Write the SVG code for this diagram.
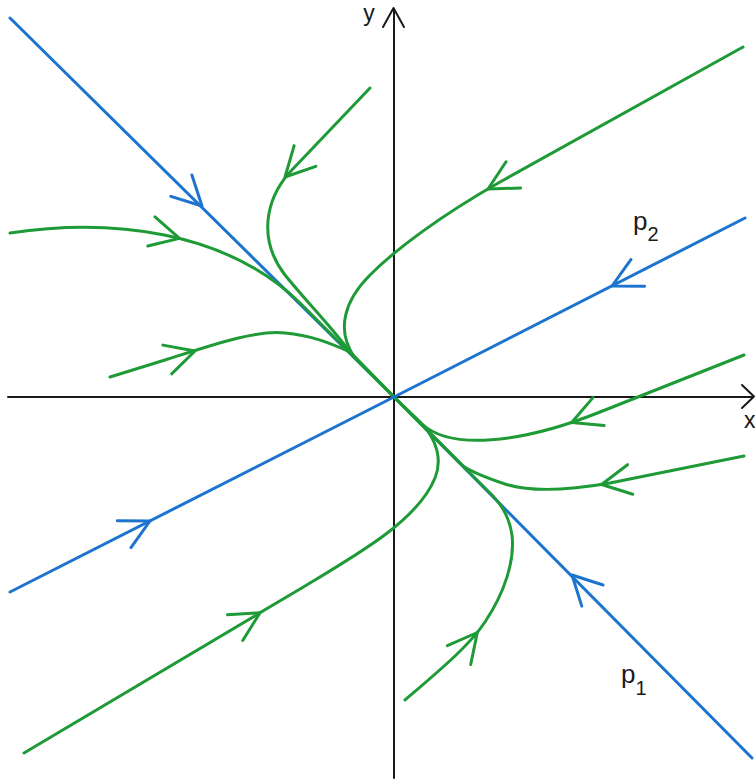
<svg xmlns="http://www.w3.org/2000/svg" xmlns:xlink="http://www.w3.org/1999/xlink" width="756" height="780" viewBox="0 0 756 780">
<style>
.axis{stroke:#1a1a1a;stroke-width:2;fill:none;stroke-linecap:round;stroke-linejoin:round}
.blue{stroke:#1c74cf;stroke-width:3;fill:none;stroke-linecap:round;stroke-linejoin:round}
.green{stroke:#1e9a37;stroke-width:3;fill:none;stroke-linecap:round;stroke-linejoin:round}
.lbl{font-family:"Liberation Sans",Arial,sans-serif;fill:#1a1a1a}
</style>
<defs>
<path id="chev" d="M-29,-15 L0,0 L-29,15"/>
</defs>
<rect width="756" height="780" fill="#ffffff"/>
<g id="axes">
<line class="axis" x1="8" y1="397" x2="753" y2="397"/>
<path class="axis" d="M742,385 L754,396.5 L742,408"/>
<line class="axis" x1="394" y1="778" x2="394" y2="9"/>
<path class="axis" d="M383,27 L393.5,8 L404,27"/>
<text class="lbl" x="369" y="21" font-size="23" text-anchor="middle">y</text>
<text class="lbl" x="744" y="428" font-size="23">x</text>
</g>
<g id="p1">
<polyline class="blue" points="10,18 394,397 752,758"/>
<use xlink:href="#chev" class="blue" transform="translate(202,206) rotate(44.6)"/>
<use xlink:href="#chev" class="blue" transform="translate(572,575) rotate(-134.8)"/>
</g>
<g id="trajectories">
<path class="green" d="M743,47 L500,182 C440,216 395,250 370,275 C345,300 335,330 355,358 L394,397"/>
<use xlink:href="#chev" class="green" transform="translate(488,189) rotate(150.9)"/>
<path class="green" d="M370,88 L290,172 C265,200 258,240 285,275 C305,300 330,325 350,352 L394,397"/>
<use xlink:href="#chev" class="green" transform="translate(285,177) rotate(133.6)"/>
<path class="green" d="M10,233 C110,218 225,230 300,303 L394,397"/>
<use xlink:href="#chev" class="green" transform="translate(179.5,238.4) rotate(14)"/>
<path class="green" d="M110,377 L165,360 C215,344 255,330 285,333 C310,335 330,343 350,352 L394,397"/>
<use xlink:href="#chev" class="green" transform="translate(195,351) rotate(-17)"/>
<path class="green" d="M24,753 L300,589 C360,553 418,520 435,478 C442,461 438,440 420,422 L394,397"/>
<use xlink:href="#chev" class="green" transform="translate(260,612.8) rotate(-30.7)"/>
<path class="green" d="M405,700 C440,670 470,645 485,622 C505,592 515,560 512,535 C509,515 500,502 487,490 L394,397"/>
<use xlink:href="#chev" class="green" transform="translate(477.3,632.5) rotate(-51)"/>
<path class="green" d="M744,355 L600,412 C520,444 450,450 422,424 L394,397"/>
<use xlink:href="#chev" class="green" transform="translate(571.7,422.4) rotate(158)"/>
<path class="green" d="M744,456 L610,483 C570,490 530,492 505,484 C490,479 475,474 463,466 L394,397"/>
<use xlink:href="#chev" class="green" transform="translate(601.6,484.5) rotate(170)"/>
</g>
<g id="p2">
<polyline class="blue" points="10,592 394,397 745,218"/>
<use xlink:href="#chev" class="blue" transform="translate(612,286) rotate(153)"/>
<use xlink:href="#chev" class="blue" transform="translate(150,521) rotate(-27)"/>
</g>
<g id="labels">
<text class="lbl" x="633" y="230" font-size="26">p<tspan font-size="20" dy="11">2</tspan></text>
<text class="lbl" x="621" y="683" font-size="26">p<tspan font-size="20" dy="12">1</tspan></text>
</g>
</svg>
